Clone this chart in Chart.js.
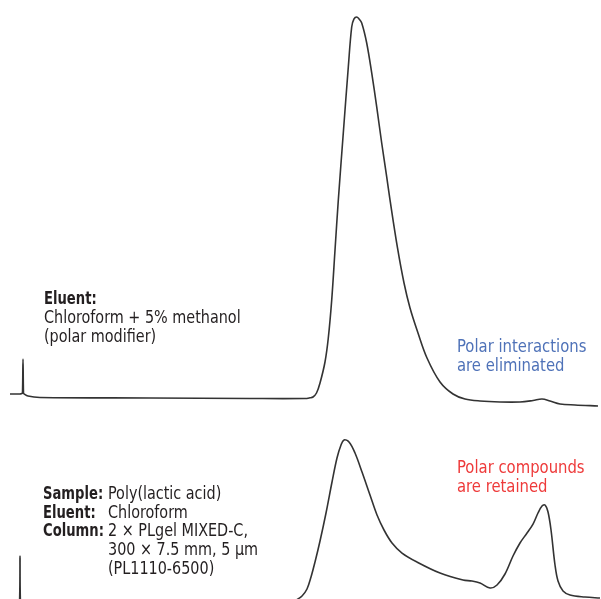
<!DOCTYPE html>
<html>
<head>
<meta charset="utf-8">
<script src="https://cdn.jsdelivr.net/npm/chart.js@4.4.1/dist/chart.umd.min.js"></script>
<style>
  html, body { margin: 0; padding: 0; background: #ffffff; }
  #wrap { position: relative; width: 601px; height: 599px; overflow: hidden; }
  #c { position: absolute; left: 0; top: 0; }
  .txt { position: absolute; font-family: "Liberation Sans Narrow", "Arial Narrow", "DejaVu Sans Condensed", sans-serif; font-size: 17px; line-height: 18.7px; color: #231f20; white-space: nowrap; transform-origin: 0 0; transform: scaleX(0.94); }
  .b { font-weight: bold; transform: scaleX(0.86); }
  .blue { color: #4f72b8; transform: scaleX(0.97); }
  .red { color: #ee3a3a; transform: scaleX(0.97); }
</style>
</head>
<body>
<div id="wrap">
  <canvas id="c" width="601" height="599"></canvas>
  <div class="txt b" style="left:44px; top:289px;">Eluent:</div>
  <div class="txt" style="left:44px; top:308px;">Chloroform + 5% methanol<br>(polar modifier)</div>

  <div class="txt blue" style="left:457px; top:337px;">Polar interactions<br>are eliminated</div>
  <div class="txt red" style="left:457px; top:458px;">Polar compounds<br>are retained</div>

  <div class="txt b" style="left:43px; top:484px;">Sample:<br>Eluent:<br>Column:</div>
  <div class="txt" style="left:108px; top:484px;">Poly(lactic acid)<br>Chloroform<br>2 × PLgel MIXED-C,<br>300 × 7.5 mm, 5 µm<br>(PL1110-6500)</div>
</div>
<script>
// Retention time (min) and detector response (relative, main peak = 100)
const timeTop = [0.333, 0.667, 0.733, 0.75, 0.767, 0.783, 0.8, 0.933, 1.333, 5.0, 8.333, 10.167, 10.333, 10.433, 10.55, 10.667, 10.833, 10.943, 11.057, 11.167, 11.277, 11.443, 11.61, 11.723, 11.8, 11.89, 11.967, 12.057, 12.223, 12.39, 12.557, 12.723, 12.89, 13.0, 13.25, 13.467, 13.667, 13.933, 14.233, 14.667, 15.1, 15.5, 16.0, 16.667, 17.333, 17.767, 18.067, 18.333, 18.667, 19.167, 19.933];
const respTop = [1.05, 1.05, 1.2, 1.31, 10.24, 1.31, 1.1, 0.52, 0.13, 0, -0.13, -0.13, 0.05, 0.26, 1.31, 3.94, 9.45, 15.75, 25.72, 38.85, 51.97, 69.55, 86.88, 97.38, 99.48, 100, 99.48, 98.43, 93.18, 85.30, 76.38, 66.93, 58.01, 51.97, 39.37, 30.18, 23.62, 17.06, 10.50, 4.20, 1.05, -0.26, -0.79, -1.05, -1.05, -0.66, -0.26, -0.79, -1.57, -1.84, -2.10];

const timeBottom = [0.333, 0.6, 0.65, 0.667, 0.683, 0.733, 1.0, 3.333, 9.667, 9.867, 10.067, 10.233, 10.367, 10.5, 10.667, 10.867, 11.067, 11.233, 11.367, 11.467, 11.633, 11.833, 12.067, 12.333, 12.567, 12.8, 13.067, 13.4, 13.9, 14.667, 15.433, 15.733, 16.0, 16.333, 16.567, 16.833, 17.1, 17.333, 17.567, 17.767, 17.933, 18.067, 18.167, 18.267, 18.367, 18.5, 18.6, 18.767, 19.0, 19.5, 20.0];
const respBottom = [-0.26, -0.26, -0.26, 12.07, -0.26, -0.26, -0.26, -0.26, -0.26, 0.52, 1.57, 3.41, 6.56, 10.50, 16.01, 23.36, 31.50, 37.80, 41.21, 42.52, 41.99, 39.11, 34.12, 28.08, 22.83, 18.90, 15.49, 12.86, 10.50, 7.61, 5.77, 5.51, 4.99, 3.67, 4.46, 7.35, 12.07, 15.49, 18.11, 20.47, 23.36, 25.20, 25.46, 23.62, 18.90, 9.71, 5.51, 2.89, 1.84, 1.31, 1.05];

const toXY = (xs, ys) => xs.map((x, i) => ({ x: x, y: ys[i] }));

const lineStyle = {
  borderColor: '#333333',
  borderWidth: 1.6,
  pointRadius: 0,
  fill: false,
  tension: 0.35
};

new Chart(document.getElementById('c'), {
  type: 'line',
  data: {
    datasets: [
      Object.assign({ label: 'Chloroform + 5% methanol', data: toXY(timeTop, respTop), yAxisID: 'y' }, lineStyle),
      Object.assign({ label: 'Chloroform', data: toXY(timeBottom, respBottom), yAxisID: 'y2' }, lineStyle)
    ]
  },
  options: {
    responsive: false,
    devicePixelRatio: 1,
    animation: false,
    layout: { padding: 0 },
    plugins: { legend: { display: false }, tooltip: { enabled: false } },
    scales: {
      x: { type: 'linear', display: false, min: 0, max: 20.033 },
      y: { display: false, min: -52.76, max: 104.46 },
      y2: { display: false, min: 0.79, max: 158.01 }
    }
  }
});
</script>
</body>
</html>
